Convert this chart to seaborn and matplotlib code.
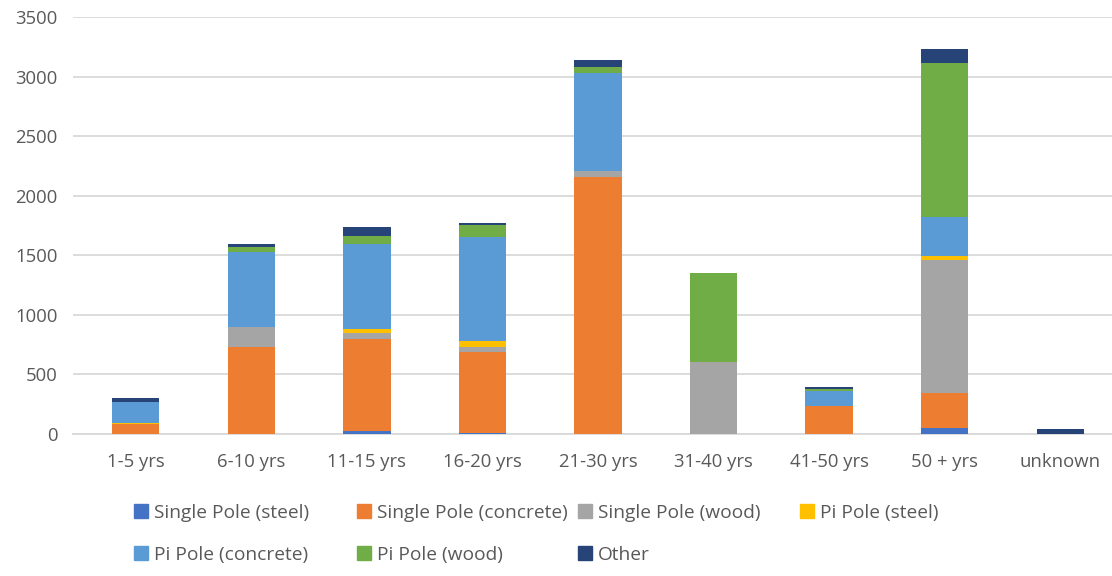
import numpy as np
import matplotlib
matplotlib.use("Agg")
import matplotlib.pyplot as plt
import seaborn as sns

# =========================
# DATA
# =========================

categories = ["1-5 yrs", "6-10 yrs", "11-15 yrs", "16-20 yrs", "21-30 yrs",
              "31-40 yrs", "41-50 yrs", "50 + yrs", "unknown"]

single_steel = [0, 0, 25, 10, 0, 0, 0, 48, 0]
single_concrete = [85, 730, 775, 680, 2159, 0, 235, 299, 0]
single_wood = [0, 165, 45, 43, 48, 607, 0, 1113, 0]
pi_steel = [5, 5, 35, 45, 0, 0, 0, 33, 0]
pi_concrete = [175, 625, 713, 877, 819, 0, 126, 330, 0]
pi_wood = [0, 45, 70, 98, 51, 746, 14, 1295, 0]
other = [40, 25, 73, 20, 61, 0, 22, 112, 45]

series_names = ["Single Pole (steel)", "Single Pole (concrete)", "Single Pole (wood)",
                "Pi Pole (steel)", "Pi Pole (concrete)", "Pi Pole (wood)", "Other"]
series_values = [single_steel, single_concrete, single_wood, pi_steel,
                 pi_concrete, pi_wood, other]
colors = ["#4472C4", "#ED7D31", "#A5A5A5", "#FFC000", "#5B9BD5", "#70AD47", "#264478"]

# =========================
# PLOT
# =========================

sns.set_style("white")
plt.rcParams['font.family'] = ['Open Sans', 'DejaVu Sans']

W, H = 1112, 576
fig = plt.figure(figsize=(W / 100, H / 100), dpi=100)
ax = fig.add_axes([73 / W, 1 - 434 / H, 1045 / W, 417 / H])

bottom = np.zeros(len(categories))
handles = []
for name, vals, col in zip(series_names, series_values, colors):
    sns.barplot(x=categories, y=vals, bottom=bottom, color=col, saturation=1,
                width=0.41, ax=ax, linewidth=0, zorder=3)
    handles.append(plt.Rectangle((0, 0), 1, 1, color=col))
    bottom += np.array(vals)

ax.set_ylim(0, 3500)
ax.set_xlim(-0.543, 8.5)
ax.set_yticks(range(0, 3501, 500))
ax.yaxis.grid(True, color="#D9D9D9", linewidth=1.3, zorder=0)
ax.xaxis.grid(False)
for s in ["top", "right", "left"]:
    ax.spines[s].set_visible(False)
ax.spines["bottom"].set_color("#D9D9D9")
ax.spines["bottom"].set_linewidth(1.3)
ax.tick_params(axis="both", length=0, labelsize=13.3, colors="#595959")
ax.tick_params(axis="x", pad=14)
ax.tick_params(axis="y", pad=11)
ax.set_xlabel("")
ax.set_ylabel("")

# legend entries laid out in fixed-width slots like the spreadsheet legend
slot_x = [134, 357, 578, 800, 134, 357, 578]
slot_y = [513, 513, 513, 513, 555, 555, 555]
for h, name, lx, ly in zip(handles, series_names, slot_x, slot_y):
    leg = fig.legend([h], [name], loc="center left",
                     bbox_to_anchor=(lx / W, 1 - ly / H),
                     frameon=False, fontsize=13.8, handlelength=0.75,
                     handleheight=0.75, handletextpad=0.3, borderpad=0,
                     borderaxespad=0, labelcolor="#595959")

plt.savefig("out.png", dpi=100)
plt.close()
